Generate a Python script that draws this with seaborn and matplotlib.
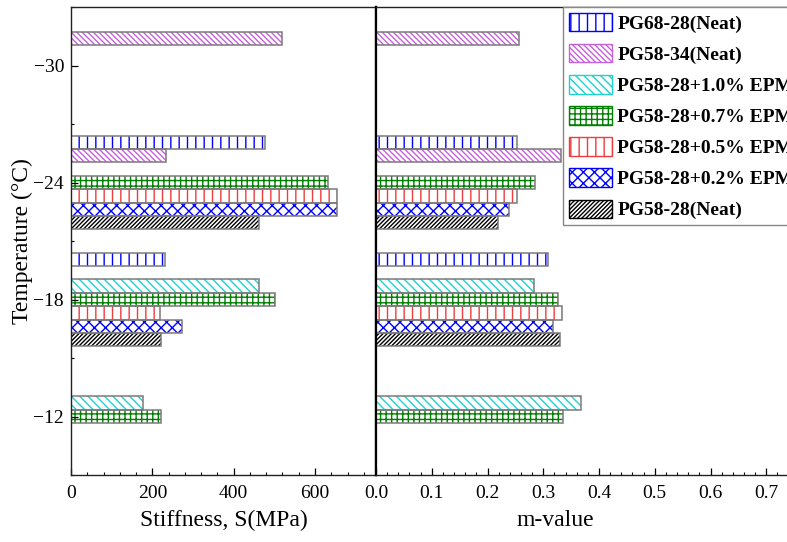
import numpy as np
import pandas as pd
import matplotlib
matplotlib.use("Agg")
import matplotlib.pyplot as plt
from matplotlib.patches import Patch, Rectangle
from matplotlib.ticker import MultipleLocator, FormatStrFormatter
import seaborn as sns

# Test temperatures (°C)
temps = [-30, -24, -18, -12]

# Binder labels, top to bottom within each temperature group
binders = [
    "PG68-28(Neat)",
    "PG58-34(Neat)",
    "PG58-28+1.0% EPM",
    "PG58-28+0.7% EPM",
    "PG58-28+0.5% EPM",
    "PG58-28+0.2% EPM",
    "PG58-28(Neat)",
]

nan = np.nan
# Creep stiffness S (MPa), one list per binder in the order of `temps`
s_pg6828 = [nan, 476, 232, nan]
s_pg5834 = [519, 233, nan, nan]
s_epm10 = [nan, nan, 462, 177]
s_epm07 = [nan, 631, 502, 222]
s_epm05 = [nan, 653, 218, nan]
s_epm02 = [nan, 655, 274, nan]
s_pg5828 = [nan, 462, 222, nan]

# m-value, one list per binder in the order of `temps`
m_pg6828 = [nan, 0.253, 0.309, nan]
m_pg5834 = [0.257, 0.331, nan, nan]
m_epm10 = [nan, nan, 0.284, 0.368]
m_epm07 = [nan, 0.285, 0.326, 0.335]
m_epm05 = [nan, 0.253, 0.333, nan]
m_epm02 = [nan, 0.239, 0.317, nan]
m_pg5828 = [nan, 0.219, 0.330, nan]

stiffness = [s_pg6828, s_pg5834, s_epm10, s_epm07, s_epm05, s_epm02, s_pg5828]
mvalue = [m_pg6828, m_pg5834, m_epm10, m_epm07, m_epm05, m_epm02, m_pg5828]

# Hatch style per binder
hatch_colors = ["#0000ff", "#c660dc", "#1ed2d2", "#007f00", "#f03c3c", "#0000ff", "#000000"]
hatches = ["||", "\\" * 6, "\\" * 4, "+++", "||", "xxx", "/" * 8]

rows = []
for b, s_list, m_list in zip(binders, stiffness, mvalue):
    for t, s, m in zip(temps, s_list, m_list):
        if not np.isnan(s):
            rows.append({"Temperature": t, "Binder": b, "Stiffness": s, "m": m})
df = pd.DataFrame(rows)

plt.rcParams["font.family"] = ["Liberation Serif", "DejaVu Serif"]
plt.rcParams["hatch.linewidth"] = 1.0

W, H = 787, 542
fig = plt.figure(figsize=(W / 100, H / 100), dpi=100)
ax1 = fig.add_axes([71 / W, 67 / H, 305 / W, 468 / H])
ax2 = fig.add_axes([376 / W, 67 / H, 446 / W, 468 / H])

palette = dict(zip(binders, hatch_colors))

for ax, col in [(ax1, "Stiffness"), (ax2, "m")]:
    sub = df.dropna(subset=[col])
    sns.barplot(data=sub, x=col, y="Temperature", hue="Binder", hue_order=binders,
                palette=palette, orient="h", native_scale=True, dodge=True,
                width=0.8, errorbar=None, legend=False, ax=ax)
    for container, color, hatch in zip(ax.containers, hatch_colors, hatches):
        for bar in container:
            bar.set_facecolor("white")
            bar.set_edgecolor(color)
            bar.set_hatch(hatch)
            bar.set_linewidth(0)
            ax.add_patch(Rectangle(bar.get_xy(), bar.get_width(), bar.get_height(),
                                   fill=False, edgecolor="#7a7a7a", linewidth=1.1,
                                   zorder=bar.get_zorder() + 0.1))
    ax.set_ylim(-9, -33)
    ax.set_yticks(temps)
    ax.yaxis.set_minor_locator(MultipleLocator(3))
    ax.tick_params(which="both", direction="in", labelsize=14, pad=5)
    ax.tick_params(axis="x", which="both", pad=7)
    ax.tick_params(which="major", length=5, width=0.9)
    ax.tick_params(which="minor", length=2.5, width=0.8)
    for side in ["top", "bottom", "left", "right"]:
        ax.spines[side].set_visible(True)
        ax.spines[side].set_color("#222222")
        ax.spines[side].set_linewidth(1.0)

ax1.set_xlim(0, 750)
ax1.xaxis.set_major_locator(MultipleLocator(200))
ax1.xaxis.set_minor_locator(MultipleLocator(40))
ax1.set_xlabel("Stiffness, S(MPa)", fontsize=17)
ax1.set_ylabel("Temperature (°C)", fontsize=17, labelpad=0)
ax1.xaxis.set_label_coords(0.5, -0.074)
ax1.spines["right"].set_color("black")
ax1.spines["right"].set_linewidth(1.6)

ax2.set_xlim(0, 0.8)
ax2.xaxis.set_major_locator(MultipleLocator(0.1))
ax2.xaxis.set_minor_locator(MultipleLocator(0.02))
ax2.xaxis.set_major_formatter(FormatStrFormatter("%.1f"))
ax2.set_xlabel("m-value", fontsize=17)
ax2.xaxis.set_label_coords(0.401, -0.074)
ax2.set_ylabel("")
ax2.tick_params(axis="y", which="both", left=False, labelleft=False)
ax2.spines["left"].set_color("black")
ax2.spines["left"].set_linewidth(1.6)

handles = [Patch(facecolor="white", edgecolor=c, hatch=h, linewidth=1.0)
           for c, h in zip(hatch_colors, hatches)]
leg = ax2.legend(handles, binders, loc="upper left",
                 bbox_to_anchor=(563 / W, 1 - 7 / H), bbox_transform=fig.transFigure,
                 borderaxespad=0, fancybox=False, framealpha=1, edgecolor="#888888",
                 prop={"family": "Liberation Serif", "weight": "bold", "size": 14},
                 handlelength=2.2, handleheight=1.08, labelspacing=0.58,
                 handletextpad=0.3, borderpad=0.3)
leg.get_frame().set_linewidth(1.0)

fig.savefig("out.png", dpi=100)
